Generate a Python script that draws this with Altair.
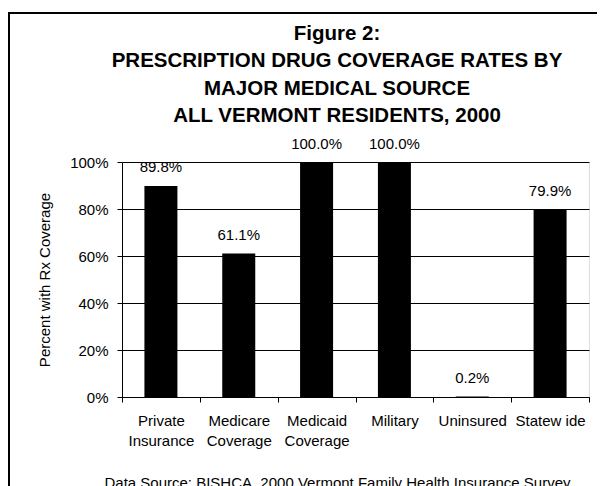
import altair as alt
import pandas as pd

categories = ["Private\nInsurance", "Medicare\nCoverage", "Medicaid\nCoverage",
              "Military", "Uninsured", "Statew ide"]
values = [89.8, 61.1, 100.0, 100.0, 0.2, 79.9]
y_ticks = [0, 20, 40, 60, 80, 100]
title_lines = ["Figure 2:", "PRESCRIPTION DRUG COVERAGE RATES BY",
               "MAJOR MEDICAL SOURCE", "ALL VERMONT RESIDENTS, 2000"]
y_title = "Percent with Rx Coverage"
source_note = "Data Source: BISHCA, 2000 Vermont Family Health Insurance Survey"

df = pd.DataFrame({"category": categories, "value": values})
df["label"] = [f"{v:.1f}%" for v in values]

FONT = "Liberation Sans"

x_enc = alt.X(
    "category:N",
    sort=categories,
    scale=alt.Scale(paddingInner=0, paddingOuter=0),
    axis=alt.Axis(
        title=source_note,
        titleFont=FONT, titleFontSize=15, titleFontWeight="normal", titleColor="black",
        titleX=215, titleY=90, titleAlign="center", titleBaseline="alphabetic",
        labelAngle=0, labelExpr="split(datum.label, '\\n')",
        labelFont=FONT, labelFontSize=15, labelColor="black", labelLineHeight=20.5,
        labelPadding=11, tickSize=5, tickColor="black", tickBand="extent",
        domainColor="black", grid=False,
    ),
)
y_enc = alt.Y(
    "value:Q",
    scale=alt.Scale(domain=[0, 100], nice=False),
    axis=alt.Axis(
        title=y_title, values=y_ticks,
        titleFont=FONT, titleFontSize=15, titleFontWeight="normal", titleColor="black",
        titleX=-78, titleY=117.5, titleAngle=270, titleAlign="center", titleBaseline="middle",
        labelExpr="datum.value + '%'",
        labelFont=FONT, labelFontSize=15, labelColor="black", labelPadding=9,
        tickSize=5, tickColor="black", domainColor="black",
        grid=True, gridColor="black", gridOpacity=1, gridWidth=1,
    ),
)

bars = alt.Chart(df).mark_bar(color="black", size=33).encode(x=x_enc, y=y_enc)
labels = alt.Chart(df).mark_text(
    dy=-13.5, baseline="alphabetic", fontSize=15, font=FONT, color="black"
).encode(x=alt.X("category:N", sort=categories), y="value:Q", text="label:N")

one_row = pd.DataFrame({"b": [0]})
border = alt.Chart(one_row).mark_rect(
    fillOpacity=0, stroke="black", strokeWidth=2
).encode(x=alt.value(-113), x2=alt.value(620), y=alt.value(-149), y2=alt.value(420))

title = alt.Chart(one_row).mark_text(
    font=FONT, fontSize=20.5, fontWeight="bold", color="black",
    lineHeight=27.5, align="center", baseline="alphabetic",
).encode(x=alt.value(215), y=alt.value(-122.5), text=alt.value(title_lines))

chart = alt.layer(border, title, bars, labels).properties(
    width=467, height=235,
    autosize=alt.AutoSizeParams(type="none"),
    padding={"left": 114, "top": 154, "right": 8, "bottom": 89},
).configure_view(stroke=None).configure(background="white")

chart.save("out.html", embed_options={"renderer": "svg", "actions": False})
